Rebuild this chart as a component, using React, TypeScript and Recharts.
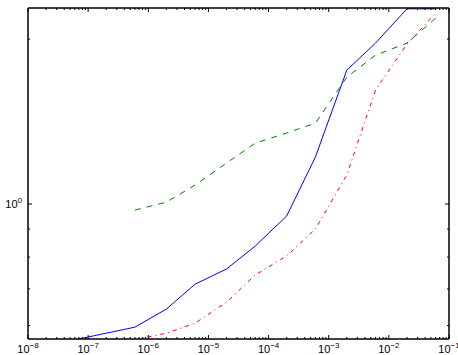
import { LineChart, Line, XAxis, YAxis } from 'recharts'

// sample positions along the x axis (log scale)
const xValues = [6e-8, 6e-7, 2e-6, 6e-6, 2e-5, 6e-5, 2e-4, 6e-4, 2e-3, 6e-3, 2e-2, 6e-2]

// three curves
const solidSeries = [0.565, 0.596, 0.643, 0.714, 0.761, 0.838, 0.951, 1.218, 1.756, 1.967, 2.272, 2.272]
const dashedSeries = [null, 0.975, 1.008, 1.083, 1.188, 1.292, 1.348, 1.405, 1.705, 1.87, 1.967, 2.185]
const dashDotSeries = [null, 0.565, 0.581, 0.606, 0.662, 0.742, 0.804, 0.9, 1.13, 1.615, 1.959, 2.231]

const xMajorTicks = [1e-8, 1e-7, 1e-6, 1e-5, 1e-4, 1e-3, 1e-2, 1e-1]
const xMinorTicks = xMajorTicks.slice(0, -1).flatMap((d) => [2, 3, 4, 5, 6, 7, 8, 9].map((m) => m * d))
const yMajorTicks = [1]
const yMinorTicks = [0.6, 0.7, 0.8, 0.9, 2]

const xDomain = [1e-8, 1e-1]
const yDomain = [0.567, 2.28]

const data = xValues.map((x, i) => ({
  x,
  solid: solidSeries[i],
  dashed: dashedSeries[i],
  dashdot: dashDotSeries[i],
}))

const xTicks = [...xMajorTicks, ...xMinorTicks].sort((a, b) => a - b)
const yTicks = [...yMajorTicks, ...yMinorTicks].sort((a, b) => a - b)

const FONT = '"Liberation Sans", Arial, sans-serif'

const isMajor = (v: number) => Math.abs(Math.log10(v) - Math.round(Math.log10(v))) < 1e-6

const expLabel = (v: number) => {
  const e = Math.round(Math.log10(v))
  return e < 0 ? `\u2212${-e}` : `${e}`
}

function BottomTick({ x, y, payload }: any) {
  const major = isMajor(payload.value)
  return (
    <g>
      <line x1={x} x2={x} y1={y} y2={y - (major ? 4 : 2)} stroke="#000" strokeWidth={1} />
      {major && (
        <text x={x} y={y + 14} textAnchor="middle" fontFamily={FONT} fontSize={11} fill="#000">
          <tspan>10</tspan>
          <tspan dy={-5} fontSize={8}>{expLabel(payload.value)}</tspan>
        </text>
      )}
    </g>
  )
}

function TopTick({ x, y, payload }: any) {
  const major = isMajor(payload.value)
  return <line x1={x} x2={x} y1={y} y2={y + (major ? 4 : 2)} stroke="#000" strokeWidth={1} />
}

function LeftTick({ x, y, payload }: any) {
  const major = isMajor(payload.value)
  return (
    <g>
      <line x1={x} x2={x + (major ? 4 : 2)} y1={y} y2={y} stroke="#000" strokeWidth={1} />
      {major && (
        <text x={x - 6} y={y + 4} textAnchor="end" fontFamily={FONT} fontSize={11} fill="#000">
          <tspan>10</tspan>
          <tspan dy={-5} fontSize={8}>{expLabel(payload.value)}</tspan>
        </text>
      )}
    </g>
  )
}

function RightTick({ x, y, payload }: any) {
  const major = isMajor(payload.value)
  return <line x1={x} x2={x - (major ? 4 : 2)} y1={y} y2={y} stroke="#000" strokeWidth={1} />
}

export default function App() {
  const axisLine = { stroke: '#000', strokeWidth: 1.5 }
  return (
    <div style={{ position: 'absolute', left: 0, top: 0, background: '#fff' }}>
      <LineChart width={458} height={355} data={data} margin={{ top: 0, right: 0, bottom: 0, left: 0 }}>
        <XAxis
          dataKey="x"
          type="number"
          scale="log"
          domain={xDomain}
          allowDataOverflow
          ticks={xTicks}
          interval={0}
          tick={<BottomTick />}
          tickLine={false}
          tickSize={0}
          tickMargin={0}
          height={16}
          axisLine={axisLine}
        />
        <XAxis
          xAxisId="top"
          dataKey="x"
          type="number"
          scale="log"
          orientation="top"
          domain={xDomain}
          allowDataOverflow
          ticks={xTicks}
          interval={0}
          tick={<TopTick />}
          tickLine={false}
          tickSize={0}
          tickMargin={0}
          height={8}
          axisLine={axisLine}
        />
        <YAxis
          type="number"
          scale="log"
          domain={yDomain}
          allowDataOverflow
          ticks={yTicks}
          interval={0}
          tick={<LeftTick />}
          tickLine={false}
          tickSize={0}
          tickMargin={0}
          width={28}
          axisLine={axisLine}
        />
        <YAxis
          yAxisId="right"
          type="number"
          scale="log"
          orientation="right"
          domain={yDomain}
          allowDataOverflow
          ticks={yTicks}
          interval={0}
          tick={<RightTick />}
          tickLine={false}
          tickSize={0}
          tickMargin={0}
          width={9}
          axisLine={axisLine}
        />
        {/* invisible copy so the top and right axes have a series to draw for */}
        <Line
          xAxisId="top"
          yAxisId="right"
          dataKey="solid"
          stroke="none"
          dot={false}
          activeDot={false}
          legendType="none"
          isAnimationActive={false}
        />
        <Line
          dataKey="solid"
          stroke="#0000ff"
          strokeWidth={1}
          dot={false}
          isAnimationActive={false}
        />
        <Line
          dataKey="dashed"
          stroke="#008000"
          strokeWidth={1}
          strokeDasharray="6 6"
          dot={false}
          isAnimationActive={false}
        />
        <Line
          dataKey="dashdot"
          stroke="#ff0000"
          strokeWidth={1}
          strokeDasharray="4 4 1 4"
          dot={false}
          isAnimationActive={false}
        />
      </LineChart>
    </div>
  )
}
